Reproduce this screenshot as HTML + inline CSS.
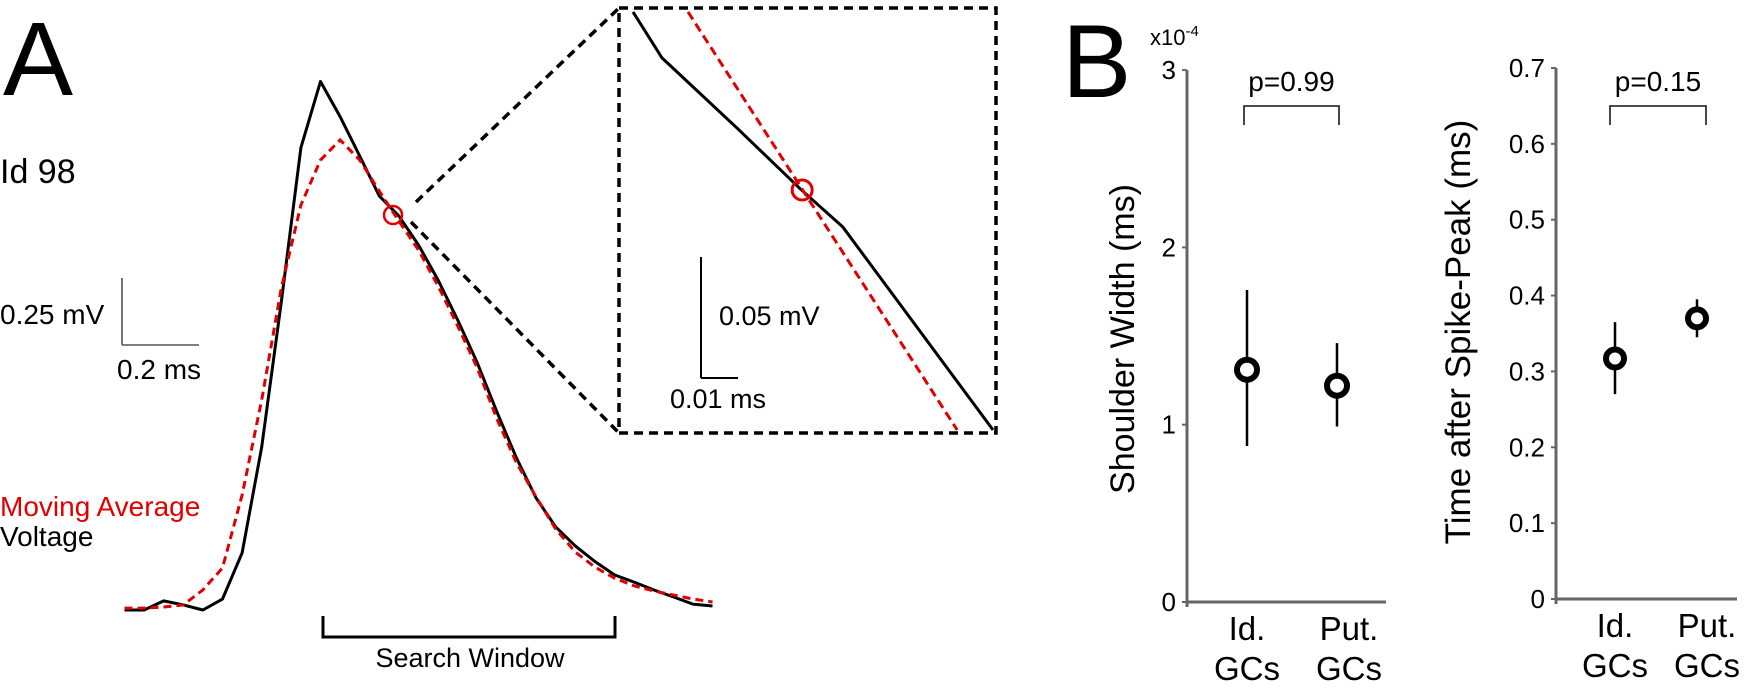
<!DOCTYPE html>
<html><head><meta charset="utf-8"><title>Spike shoulder analysis</title>
<style>
html,body{margin:0;padding:0;background:#fff;}
svg{display:block;font-family:"Liberation Sans",Arial,sans-serif;}
</style></head>
<body>
<svg id="fig" width="1752" height="688" viewBox="0 0 1752 688" xmlns="http://www.w3.org/2000/svg">
  <g id="panelA">
    <text x="3" y="95" font-size="105">A</text>
    <text x="0" y="183" font-size="34">Id 98</text>
    <line x1="122" y1="278" x2="122" y2="345" stroke="#555" stroke-width="1.6"/>
    <line x1="122" y1="345" x2="199" y2="345" stroke="#555" stroke-width="1.6"/>
    <text x="0" y="324" font-size="28">0.25 mV</text>
    <text x="117" y="379" font-size="28">0.2 ms</text>
    <text x="0" y="516" font-size="28" fill="#e00000">Moving Average</text>
    <text x="0" y="546" font-size="28">Voltage</text>
    <path d="M323,616 V637 H615 V616" fill="none" stroke="#000" stroke-width="3"/>
    <text x="470" y="667" font-size="27" text-anchor="middle">Search Window</text>
    <line x1="416" y1="202" x2="619" y2="8" stroke="#000" stroke-width="3.5" stroke-dasharray="9,6"/>
    <line x1="411" y1="222" x2="619" y2="433" stroke="#000" stroke-width="3.5" stroke-dasharray="9,6"/>
    <rect x="619" y="8" width="377" height="425" fill="none" stroke="#000" stroke-width="3.5" stroke-dasharray="9,6"/>
    <line x1="701" y1="257" x2="701" y2="378" stroke="#000" stroke-width="2"/>
    <line x1="701" y1="378" x2="738" y2="378" stroke="#000" stroke-width="2"/>
    <text x="719" y="325" font-size="27">0.05 mV</text>
    <text x="670" y="408" font-size="27">0.01 ms</text>
    <g id="traces"></g>
  </g>
  <g id="panelB">
    <text x="1062" y="97" font-size="104">B</text>
    <text x="1150" y="45" font-size="22">x10<tspan dy="-9" font-size="15">-4</tspan></text>
    <text transform="translate(1134,339) rotate(-90)" font-size="34" text-anchor="middle">Shoulder Width (ms)</text>
    <text transform="translate(1470,332) rotate(-90)" font-size="35" text-anchor="middle">Time after Spike-Peak (ms)</text>
    <g id="plots"></g>
  </g>
</svg>
<script>
// ---- Panel A data (time in ms, voltage in mV) ----
const dtMs = 0.05;
const voltage = [0,0,0.034,0.019,0,0.041,0.213,0.608,1.149,1.725,1.972,1.841,1.694,1.545,1.470,1.362,1.231,1.082,0.922,0.739,0.567,0.418,0.310,0.239,0.181,0.131,0.104,0.075,0.049,0.022,0.015];
const movingAvg = [0.007,0.007,0.011,0.019,0.075,0.157,0.429,0.784,1.201,1.511,1.679,1.754,1.679,1.563,1.451,1.343,1.209,1.060,0.903,0.713,0.549,0.422,0.302,0.216,0.160,0.119,0.090,0.071,0.056,0.041,0.030];
const crossing = [0.685, 1.474];
// inset data (ms, mV relative to inset origin)
const insetVoltT = [0.00378,0.01162,0.0319,0.0489,0.0605,0.1011];
const insetVoltV = [0.174,0.155,0.126,0.101,0.0851,0.00124];
const insetAvgT = [0.01865,0.0914];
const insetAvgV = [0.174,0.00124];
const insetCrossing = [0.0495,0.1004];
// ---- Panel B data ----
const groups = ["Id.|GCs","Put.|GCs"];
const widthMean = [1.31,1.22];
const widthHi = [1.76,1.46];
const widthLo = [0.88,0.99];
const widthTicks = ["0","1","2","3"];
const widthP = "p=0.99";
const timeMean = [0.317,0.370];
const timeHi = [0.365,0.395];
const timeLo = [0.27,0.345];
const timeTicks = ["0","0.1","0.2","0.3","0.4","0.5","0.6","0.7"];
const timeP = "p=0.15";

const NS = "http://www.w3.org/2000/svg";
function mk(tag, attrs, parent){const e=document.createElementNS(NS,tag);for(const k in attrs)e.setAttribute(k,attrs[k]);parent.appendChild(e);return e;}

// Panel A
const tr = document.getElementById('traces');
const ax = t => 124.5 + t*392;
const ay = v => 610 - v*268;
const ptsV = voltage.map((v,i)=>ax(i*dtMs)+','+ay(v)).join(' ');
const ptsA = movingAvg.map((v,i)=>ax(i*dtMs)+','+ay(v)).join(' ');
let e = mk('polyline',{points:ptsV,fill:'none',stroke:'#000','stroke-width':3,'stroke-linejoin':'round'},tr);


e = mk('polyline',{points:ptsA,fill:'none',stroke:'#e00000','stroke-width':3,'stroke-dasharray':'8,5'},tr);


e = mk('circle',{cx:ax(crossing[0]),cy:ay(crossing[1]),r:9,fill:'none',stroke:'#e00000','stroke-width':2.5},tr);


const ix = t => 619 + t*3700;
const iy = v => 433 - v*2420;
e = mk('polyline',{points:insetVoltT.map((t,i)=>ix(t)+','+iy(insetVoltV[i])).join(' '),fill:'none',stroke:'#000','stroke-width':3},tr);


e = mk('polyline',{points:insetAvgT.map((t,i)=>ix(t)+','+iy(insetAvgV[i])).join(' '),fill:'none',stroke:'#e00000','stroke-width':3,'stroke-dasharray':'9,5'},tr);


e = mk('circle',{cx:ix(insetCrossing[0]),cy:iy(insetCrossing[1]),r:10,fill:'none',stroke:'#e00000','stroke-width':3},tr);



// Panel B
const plots = document.getElementById('plots');
function plot(cfg){
  const g = mk('g',{},plots);
  
  
  const y = v => cfg.y0 - v*cfg.k;
  const top = y(cfg.max);
  let a = mk('line',{x1:cfg.ax,y1:top,x2:cfg.ax,y2:cfg.y0+5,stroke:'#666','stroke-width':3},g);
  
  
  a = mk('line',{x1:cfg.ax,y1:cfg.y0,x2:cfg.xend,y2:cfg.y0,stroke:'#666','stroke-width':3},g);
  
  
  cfg.ticks.forEach(lbl=>{
    const v = parseFloat(lbl), yy = y(v);
    const t = mk('line',{x1:cfg.ax-5,y1:yy,x2:cfg.ax,y2:yy,stroke:'#666','stroke-width':2},g);
    
    
    const tx = mk('text',{x:cfg.ax-11,y:yy+9,'font-size':26,'text-anchor':'end'},g);
    tx.textContent = lbl;
    
    
  });
  cfg.mean.forEach((m,i)=>{
    const cx = cfg.x0 + i*cfg.dx;
    const l = mk('line',{x1:cx,y1:y(cfg.hi[i]),x2:cx,y2:y(cfg.lo[i]),stroke:'#000','stroke-width':2.5},g);
    
    
    const c = mk('circle',{cx:cx,cy:y(m),r:cfg.r,fill:'#fff',stroke:'#000','stroke-width':6},g);
    
    
    const parts = groups[i].split('|');
    const lx = cx + (i===1?cfg.lab2:0);
    const t1 = mk('text',{x:lx,y:cfg.y0+38,'font-size':33,'text-anchor':'middle'},g);
    t1.textContent = parts[0];
    
    
    const t2 = mk('text',{x:lx,y:cfg.y0+78,'font-size':33,'text-anchor':'middle'},g);
    t2.textContent = parts[1];
    
    
  });
  const b = mk('path',{d:`M${cfg.bx1},125 V106 H${cfg.bx2} V125`,fill:'none',stroke:'#333','stroke-width':1.8},g);
  
  
  const p = mk('text',{x:(cfg.bx1+cfg.bx2)/2,y:91,'font-size':28,'text-anchor':'middle'},g);
  p.textContent = cfg.p;
  
  
}
plot({name:'shoulder-width-plot',ax:1187,xend:1386,y0:602,k:177.3,max:3,ticks:widthTicks,mean:widthMean,hi:widthHi,lo:widthLo,x0:1247,dx:90,r:10,lab2:12,bx1:1244,bx2:1339,p:widthP});
plot({name:'time-after-peak-plot',ax:1556,xend:1737,y0:599,k:758.6,max:0.7,ticks:timeTicks,mean:timeMean,hi:timeHi,lo:timeLo,x0:1615,dx:82,r:9,lab2:10,bx1:1610,bx2:1706,p:timeP});
</script>
</body></html>
